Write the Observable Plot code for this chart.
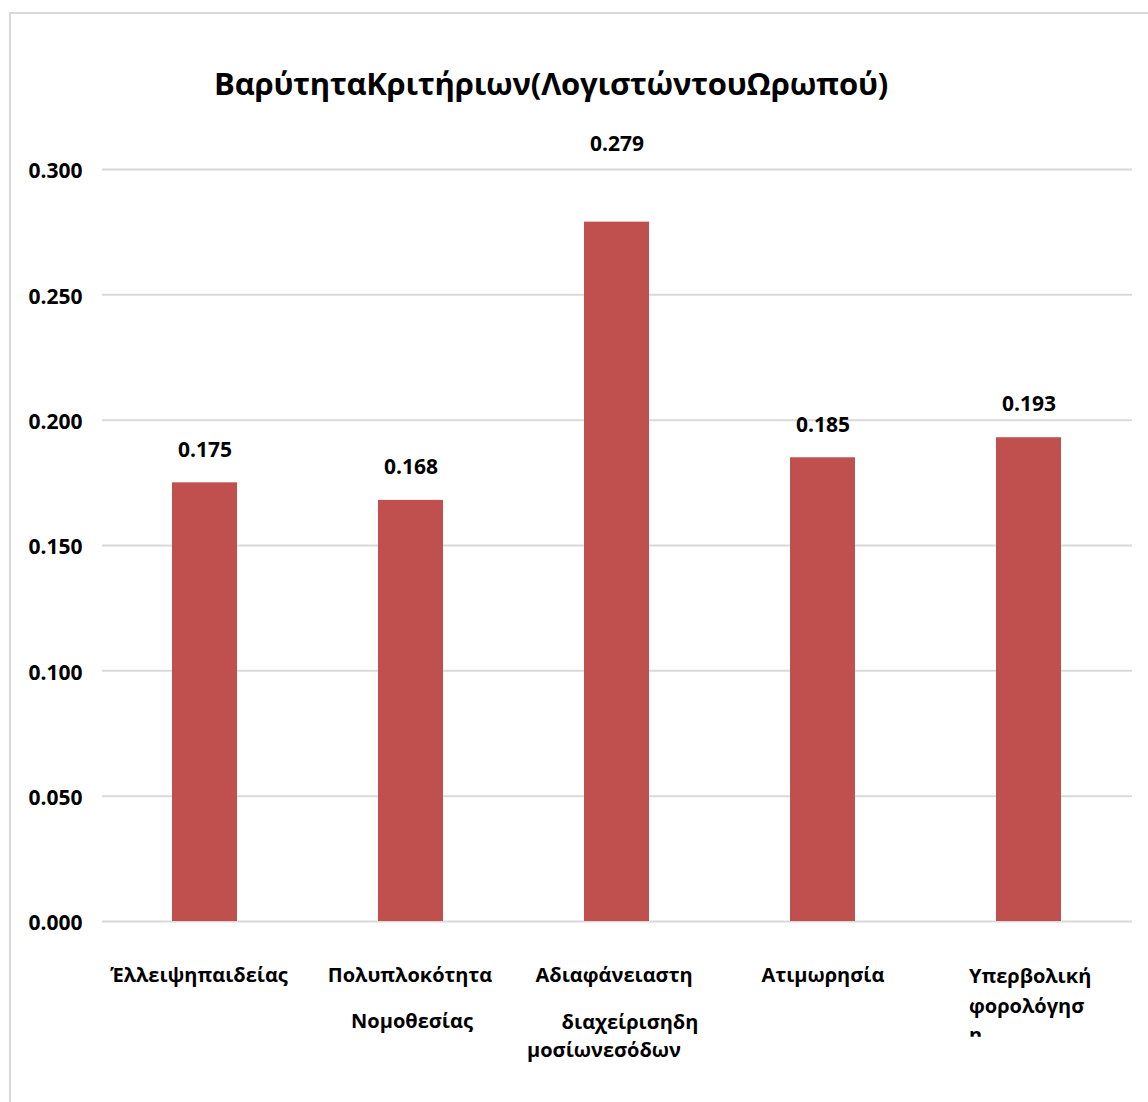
<!DOCTYPE html>
<html>
<head>
<meta charset="utf-8">
<script src="https://cdn.jsdelivr.net/npm/d3@7"></script>
<script src="https://cdn.jsdelivr.net/npm/@observablehq/plot@0.6"></script>
<style>
  html, body { margin: 0; padding: 0; background: #fff; }
  #wrap { position: relative; width: 1148px; height: 1102px; overflow: hidden; font-family: "Open Sans", sans-serif; }
  #frame { position: absolute; left: 9px; top: 12px; width: 1300px; height: 1300px; border: 2px solid #d9d9d9; box-sizing: border-box; }
  #title { position: absolute; left: 0; width: 1102px; top: 61px; text-align: center; font-weight: 700; font-size: 31px; color: #000; letter-spacing: -0.2px; line-height: 44px; }
  #chart { position: absolute; left: 0; top: 0; }
</style>
</head>
<body>
<div id="wrap">
  <div id="frame"></div>
  <div id="chart"></div>
  <div id="title">ΒαρύτηταΚριτήριων(ΛογιστώντουΩρωπού)</div>
</div>
<script>
const labelLines = [
  ["Έλλειψηπαιδείας"],
  ["Πολυπλοκότητα", "Νομοθεσίας"],
  ["Αδιαφάνειαστη", "διαχείρισηδη", "μοσίωνεσόδων"],
  ["Ατιμωρησία"],
  ["Υπερβολική", "φορολόγησ", "η"]
];
const values = [0.175, 0.168, 0.279, 0.185, 0.193];
const yTicks = [0, 0.05, 0.1, 0.15, 0.2, 0.25, 0.3];

const categories = labelLines.map(l => l.join(" "));
const data = categories.map((c, i) => ({cat: c, value: values[i]}));

// layout of the wrapped category labels (styling, not data)
const lineDy = [[60], [60, 106], [60, 107, 135], [60], [61, 91, 120]];
const lineDx = [[-6], [-1, 1], [-3, 13, -13], [0], [-60, -60, -60]];
const lineAnchor = ["middle", "middle", "middle", "middle", "start"];

const labelMarks = [];
labelLines.forEach((lines, i) => {
  lines.forEach((t, j) => {
    labelMarks.push(Plot.text([{cat: categories[i], text: t}], {
      x: "cat", text: "text", frameAnchor: "bottom",
      dy: lineDy[i][j], dx: lineDx[i][j], textAnchor: lineAnchor[i],
      fontSize: 20, fontWeight: 700, fill: "#000"
    }));
  });
});

const fmt = d3.format(".3f");
const moved = new Set([2]); // label manually lifted in the original

const chart = Plot.plot({
  width: 1148,
  height: 1102,
  marginLeft: 102,
  marginRight: 16,
  marginTop: 169,
  marginBottom: 181,
  style: {fontFamily: "Open Sans, sans-serif", background: "transparent", color: "#000"},
  x: {domain: categories, paddingInner: 0.684, paddingOuter: 0.342, align: 0.5, axis: null},
  y: {domain: [0, 0.3], axis: null},
  marks: [
    Plot.ruleY(yTicks, {stroke: "#d9d9d9", strokeWidth: 2}),
    Plot.axisY(yTicks, {label: null, tickSize: 0, tickPadding: 20, dy: 2, tickFormat: fmt, fontSize: 21, fontWeight: 700, fill: "#000"}),
    Plot.barY(data, {x: "cat", y: "value", fill: "#c0504d"}),
    Plot.text(data.filter((d, i) => !moved.has(i)), {x: "cat", y: "value", text: d => fmt(d.value), dy: -33, fontSize: 21, fontWeight: 700, fill: "#000"}),
    Plot.text(data.filter((d, i) => moved.has(i)), {x: "cat", y: "value", text: d => fmt(d.value), dy: -78, fontSize: 21, fontWeight: 700, fill: "#000"}),
    ...labelMarks
  ]
});
document.getElementById("chart").appendChild(chart);

// the last wrapped line is cut off by the label box in the original: keep only its upper part
const svgEl = chart.tagName.toLowerCase() === "svg" ? chart : chart.querySelector("svg");
const svg = d3.select(svgEl);
const lastLine = labelLines[4][labelLines[4].length - 1];
const cut = svg.selectAll("text").filter(function() { return this.textContent === lastLine; });
if (!cut.empty()) {
  const node = cut.node();
  const bb = node.getBBox();
  const defs = svg.insert("defs", ":first-child");
  defs.append("clipPath").attr("id", "cutline").attr("clipPathUnits", "userSpaceOnUse")
    .append("rect").attr("x", bb.x - 5).attr("y", bb.y).attr("width", bb.width + 10).attr("height", bb.height * 0.6);
  cut.attr("clip-path", "url(#cutline)");
}
</script>
</body>
</html>
